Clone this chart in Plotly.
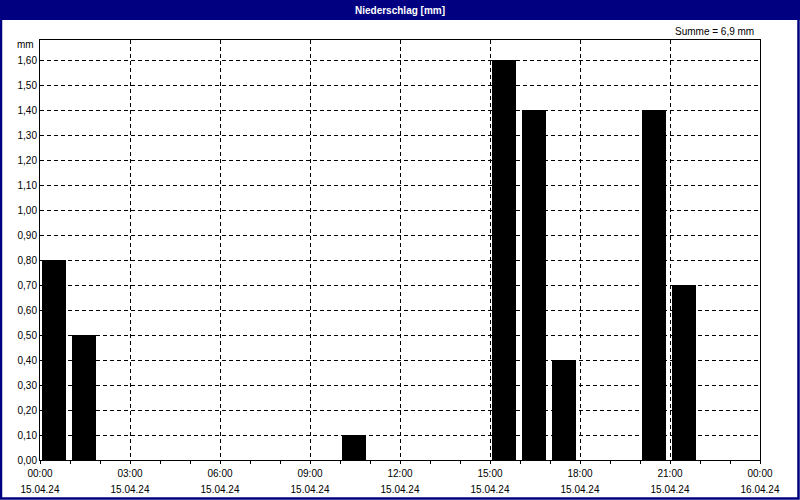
import plotly.graph_objects as go

# Niederschlag je Stunde (Beginn der Stunde), 15.04.24
hours = ["2024-04-15 00:00", "2024-04-15 01:00", "2024-04-15 10:00",
         "2024-04-15 15:00", "2024-04-15 16:00", "2024-04-15 17:00",
         "2024-04-15 20:00", "2024-04-15 21:00"]
rain_mm = [0.8, 0.5, 0.1, 1.6, 1.4, 0.4, 1.4, 0.7]

tick_times = ["2024-04-15 00:00", "2024-04-15 03:00", "2024-04-15 06:00",
              "2024-04-15 09:00", "2024-04-15 12:00", "2024-04-15 15:00",
              "2024-04-15 18:00", "2024-04-15 21:00", "2024-04-16 00:00"]
time_labels = ["00:00", "03:00", "06:00", "09:00", "12:00", "15:00",
               "18:00", "21:00", "00:00"]
date_labels = ["15.04.24"] * 8 + ["16.04.24"]

title = "Niederschlag [mm]"
summe = "Summe = 6,9 mm"

HOUR = 3600000
navy = "#000080"
dash = "4px,3px"
x_range = ["2024-04-15 00:00", "2024-04-16 00:00"]

fig = go.Figure(go.Bar(
    x=hours, y=rain_mm,
    offset=HOUR * 0.06, width=HOUR * 0.8,
    marker=dict(color="#000000", line=dict(width=0)),
))
# unsichtbare Spur für die Datumsachse
fig.add_trace(go.Scatter(x=hours, y=rain_mm, xaxis="x2", mode="none",
                         hoverinfo="skip"))

fig.update_layout(
    width=800, height=500,
    margin=dict(l=40, r=40, t=40, b=40),
    paper_bgcolor="white", plot_bgcolor="white",
    font=dict(family="Liberation Sans, DejaVu Sans, sans-serif", size=10, color="black"),
    separators=",.",
    showlegend=False,
    bargap=0,
    xaxis=dict(
        type="date", range=x_range, automargin=False,
        tickvals=tick_times, ticktext=time_labels,
        ticks="outside", ticklen=3, tickcolor="black",
        ticklabelstandoff=1,
        minor=dict(dtick=HOUR, tick0="2024-04-15", ticks="outside", ticklen=3,
                   tickcolor="black", showgrid=False),
        showgrid=True, gridcolor="black", gridwidth=1, griddash=dash,
        showline=True, linecolor="black", linewidth=1, mirror=True,
        zeroline=False,
    ),
    xaxis2=dict(
        type="date", range=x_range, overlaying="x", side="bottom", anchor="y",
        automargin=False,
        tickvals=tick_times, ticktext=date_labels,
        ticks="", showgrid=False, showline=False, zeroline=False,
        ticklabelstandoff=22,
    ),
    yaxis=dict(
        range=[0, 1.68], automargin=False,
        tick0=0, dtick=0.1, tickformat=".2f",
        ticks="", showgrid=True, gridcolor="black", gridwidth=1, griddash=dash,
        showline=True, linecolor="black", linewidth=1, mirror=True,
        zeroline=False,
    ),
)

# Fensterrahmen und Titelleiste (Papierkoordinaten relativ zur Plotfläche)
px = lambda p: (p - 40) / 720
py = lambda p: (460 - p) / 420
fig.add_shape(type="rect", xref="paper", yref="paper",
              x0=px(0), x1=px(800), y0=py(20), y1=py(0),
              fillcolor=navy, line=dict(width=0), layer="above")
fig.add_shape(type="rect", xref="paper", yref="paper",
              x0=px(1), x1=px(798.5), y0=py(498.5), y1=py(1),
              line=dict(color=navy, width=2.5), layer="above")

fig.add_annotation(text="<b>" + title + "</b>", xref="paper", yref="paper",
                   x=0.5, y=py(10), xanchor="center", yanchor="middle",
                   showarrow=False, font=dict(color="white", size=10))
fig.add_annotation(text=summe, xref="paper", yref="paper",
                   x=px(756), y=py(31), xanchor="right", yanchor="middle",
                   showarrow=False)
fig.add_annotation(text="mm", xref="paper", yref="paper",
                   x=px(36), y=py(45), xanchor="right", yanchor="middle",
                   showarrow=False)

fig.write_html("out.html", config={"displayModeBar": False},
               post_script="document.body.style.margin='0';")
